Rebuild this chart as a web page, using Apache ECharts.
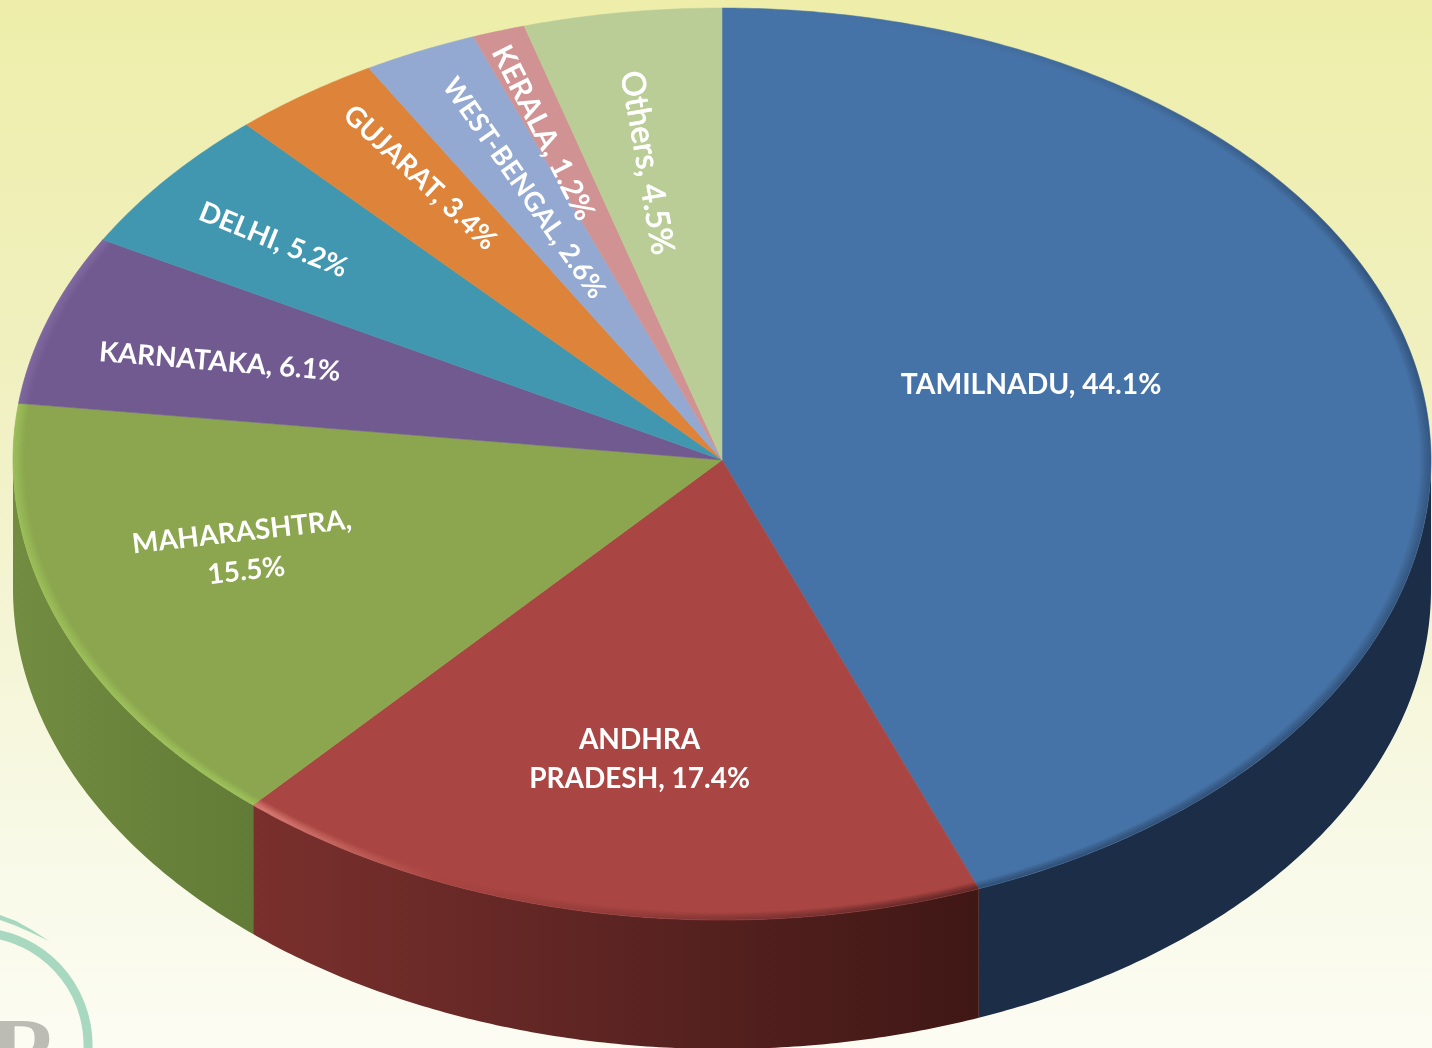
<!DOCTYPE html>
<html>
<head>
<meta charset="utf-8">
<title>State share</title>
<style>
  html, body { margin: 0; padding: 0; background: #f6f6d8; }
  #chart { width: 1432px; height: 1048px; }
</style>
</head>
<body>
<div id="chart"></div>
<script src="https://cdn.jsdelivr.net/npm/echarts@6/dist/echarts.min.js"></script>
<script>
const STATES = ["TAMILNADU", "ANDHRA\nPRADESH", "MAHARASHTRA", "KARNATAKA", "DELHI", "GUJARAT", "WEST-BENGAL", "KERALA", "Others"];
const SHARES = [44.1, 17.4, 15.5, 6.1, 5.2, 3.4, 2.6, 1.2, 4.5];

const TOP_COLORS = ["#4673a7", "#a94542", "#8ba64e", "#715a90", "#4197b0", "#dd833a", "#93a9d1", "#d19293", "#bacd96"];

// tilted disc, far half a little flatter than the near half
const CX = 722, CY = 460, RX = 709, RY_FAR = 452, RY_NEAR = 460, DEPTH = 129;

// label placement relative to a point on the slice's mid-angle
const LABEL_DX = [-109, -8, -80, -98, -116, -52, -17, -45, -15];
const LABEL_DY = [-24, 28, -6, -12, -48, -59, -22, -65, -24];
const LABEL_ROT = [0, 0, 6.5, -4.7, -22, -43, -55, -63, -80];
const LABEL_SIZE = [28.3, 28, 27.8, 27.8, 28, 28, 27, 29.5, 32.5];

function wallFill(i) {
  if (i === 0) return "#1b2d47";
  if (i === 1) return new echarts.graphic.LinearGradient(0, 0, 1, 0, [
    { offset: 0, color: "#7a302d" },
    { offset: 0.5, color: "#5c2422" },
    { offset: 1, color: "#3f1715" },
  ]);
  return new echarts.graphic.LinearGradient(0, 0, 1, 0, [
    { offset: 0, color: "#728c41" },
    { offset: 1, color: "#627b36" },
  ]);
}

function rimColor(i) {
  // the blue rim fades out towards the top of the disc
  if (i === 0) return new echarts.graphic.LinearGradient(0, 0, 0, 1, [
    { offset: 0, color: "rgba(29,51,80,0)" },
    { offset: 0.3, color: "rgba(29,51,80,0.75)" },
    { offset: 1, color: "rgba(29,51,80,0.75)" },
  ]);
  if (i === 1) return new echarts.graphic.LinearGradient(0, 0, 1, 0, [
    { offset: 0, color: "#f49a90" },
    { offset: 0.25, color: "#a94542" },
    { offset: 1, color: "#42191a" },
  ]);
  if (i === 2) return "#a9d062";
  if (i === 3) return "#8a72ab";
  return null;
}

function arcPoints(a0, a1, scale, dy) {
  const pts = [];
  const n = Math.max(2, Math.ceil((a1 - a0) / (Math.PI / 360)));
  for (let k = 0; k <= n; k++) {
    const a = a0 + ((a1 - a0) * k) / n;
    const c = Math.cos(a);
    pts.push([CX + RX * scale * Math.sin(a), CY - (c > 0 ? RY_FAR : RY_NEAR) * scale * c + dy]);
  }
  return pts;
}

function renderSlice(params, api) {
  const i = params.dataIndex;
  const before = api.value(1);
  const share = api.value(0);
  const a0 = (before / 100) * 2 * Math.PI;
  const a1 = ((before + share) / 100) * 2 * Math.PI;
  const children = [];

  // side wall, only the part facing the viewer
  const w0 = Math.max(a0, Math.PI / 2);
  const w1 = Math.min(a1, (3 * Math.PI) / 2);
  if (w1 > w0) {
    const upper = arcPoints(w0, w1, 1, 0);
    const lower = arcPoints(w0, w1, 1, DEPTH).reverse();
    children.push({
      type: "polygon",
      shape: { points: upper.concat(lower) },
      style: { fill: wallFill(i) },
    });
  }

  children.push({
    type: "polygon",
    shape: { points: [[CX, CY]].concat(arcPoints(a0, a1, 1, 0)) },
    style: { fill: TOP_COLORS[i], stroke: TOP_COLORS[i], lineWidth: 0.5 },
  });

  // soft bevel along the rim
  const rim = rimColor(i);
  if (rim) {
    const steps = 7;
    for (let j = 0; j < steps; j++) {
      children.push({
        type: "polyline",
        shape: { points: arcPoints(a0, a1, 1 - (j * 1.6 + 0.8) / RX, 0) },
        style: { fill: null, stroke: rim, lineWidth: 2, opacity: 0.5 * (1 - j / steps) },
      });
    }
  }

  const mid = (a0 + a1) / 2;
  const pct = share.toFixed(1) + "%";
  const name = STATES[i];
  const text = i === 2 ? name + ",\n" + pct : name + ", " + pct;
  const isOthers = i === 8;
  children.push({
    type: "text",
    x: CX + RX * 0.6 * Math.sin(mid) + LABEL_DX[i],
    y: CY - RY_NEAR * 0.6 * Math.cos(mid) + LABEL_DY[i],
    rotation: (LABEL_ROT[i] * Math.PI) / 180,
    style: {
      text: text,
      fill: "#ffffff",
      fontFamily: "Lato",
      fontWeight: isOthers ? "normal" : "bold",
      fontSize: LABEL_SIZE[i],
      lineHeight: 39,
      align: "center",
      verticalAlign: "middle",
      // Others is medium weight in the picture, Lato has no such cut here
      stroke: isOthers ? "#ffffff" : null,
      lineWidth: isOthers ? 0.8 : 0,
    },
  });

  return { type: "group", children: children };
}

let running = 0;
const sliceData = SHARES.map((v) => {
  const row = [v, running];
  running += v;
  return row;
});

const chart = echarts.init(document.getElementById("chart"), null, { renderer: "canvas" });

chart.setOption({
  animation: false,
  backgroundColor: new echarts.graphic.LinearGradient(0, 0, 0, 1, [
    { offset: 0, color: "#eeeeaa" },
    { offset: 0.35, color: "#f0f0c0" },
    { offset: 0.8, color: "#f8f9e6" },
    { offset: 1, color: "#fcfcf3" },
  ]),
  graphic: [
    // faint logo in the corner
    {
      type: "arc",
      silent: true,
      shape: { cx: -25, cy: 1045, r: 113, startAngle: -1.4, endAngle: 0.1 },
      style: { fill: null, stroke: "#a8d8c0", lineWidth: 9 },
    },
    {
      type: "polygon",
      silent: true,
      shape: { points: [[0, 915], [16, 921], [32, 930], [49, 941], [30, 932], [14, 925], [0, 920]] },
      style: { fill: "#a8d8c0" },
    },
    {
      type: "text",
      silent: true,
      x: -10,
      y: 1011,
      style: { text: "R", fill: "#bcbcb4", fontFamily: "Liberation Serif", fontWeight: "bold", fontSize: 96 },
    },
  ],
  series: [
    {
      type: "custom",
      coordinateSystem: "none",
      silent: true,
      data: sliceData,
      renderItem: renderSlice,
    },
  ],
});

window.addEventListener("resize", () => chart.resize());
</script>
</body>
</html>
